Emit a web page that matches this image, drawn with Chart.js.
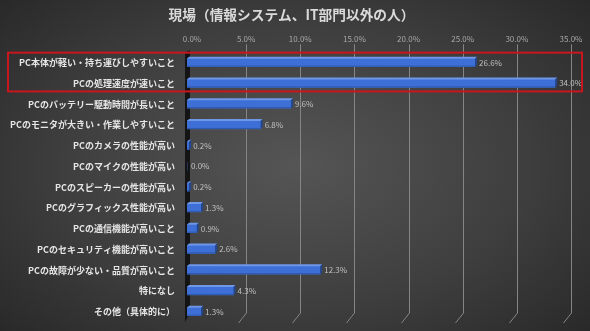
<!DOCTYPE html>
<html><head><meta charset="utf-8">
<script src="https://cdn.jsdelivr.net/npm/chart.js@4"></script>
<style>
html,body{margin:0;padding:0;}
body{width:590px;height:331px;overflow:hidden;background:radial-gradient(ellipse 72% 78% at 50% 50%, #555555 0%, #3e3e3e 55%, #262626 100%);}
#wrap{width:590px;height:331px;position:relative;}
</style></head><body><div id="wrap"><canvas id="c"></canvas></div>
<script>
const titleText = '現場（情報システム、IT部門以外の人）';
const categories = [
  'PC本体が軽い・持ち運びしやすいこと',
  'PCの処理速度が速いこと',
  'PCのバッテリー駆動時間が長いこと',
  'PCのモニタが大きい・作業しやすいこと',
  'PCのカメラの性能が高い',
  'PCのマイクの性能が高い',
  'PCのスピーカーの性能が高い',
  'PCのグラフィックス性能が高い',
  'PCの通信機能が高いこと',
  'PCのセキュリティ機能が高いこと',
  'PCの故障が少ない・品質が高いこと',
  '特になし',
  'その他（具体的に）'
];
const values = [26.6, 34.0, 9.6, 6.8, 0.2, 0.0, 0.2, 1.3, 0.9, 2.6, 12.3, 4.3, 1.3];
const tickValues = [0, 5, 10, 15, 20, 25, 30, 35];
const highlighted = [0, 1];

const FONT = '"Noto Sans CJK JP", "Noto Sans", sans-serif';
const DEPTH = 2;

const gridPlugin = {
  id: 'grid3d',
  beforeDatasetsDraw(chart) {
    const ctx = chart.ctx, xs = chart.scales.x, a = chart.chartArea;
    ctx.save();
    ctx.strokeStyle = '#858585';
    ctx.lineWidth = 1;
    tickValues.forEach(v => {
      if (v === 0) return;
      const px = Math.round(xs.getPixelForValue(v) + 5) + 0.5;
      ctx.beginPath();
      ctx.moveTo(px, a.top - 8);
      ctx.lineTo(px, a.bottom - 9);
      ctx.lineTo(px - 8, a.bottom + 1);
      ctx.stroke();
    });
    const l = xs.getPixelForValue(0);
    ctx.fillStyle = '#141414';
    ctx.beginPath();
    ctx.moveTo(l - 2, a.top);
    ctx.lineTo(l + 3, a.top - 2);
    ctx.lineTo(l + 3, a.bottom - 9);
    ctx.lineTo(l - 2, a.bottom);
    ctx.closePath();
    ctx.fill();
    ctx.restore();
  }
};

const barPlugin = {
  id: 'bar3d',
  afterDatasetsDraw(chart) {
    const ctx = chart.ctx;
    const meta = chart.getDatasetMeta(0);
    ctx.save();
    meta.data.forEach((el, i) => {
      const x0 = el.base, x1 = el.x;
      const yT = el.y - el.height / 2, yB = el.y + el.height / 2;
      const d = DEPTH;
      if (x1 - x0 > 0.5) {
        ctx.fillStyle = '#6f97e8';
        ctx.beginPath();
        ctx.moveTo(x0, yT); ctx.lineTo(x1, yT); ctx.lineTo(x1 + d, yT - d); ctx.lineTo(x0 + d, yT - d);
        ctx.closePath(); ctx.fill();
        ctx.fillStyle = '#24488f';
        ctx.beginPath();
        ctx.moveTo(x1, yT); ctx.lineTo(x1 + d, yT - d); ctx.lineTo(x1 + d, yB - d); ctx.lineTo(x1, yB);
        ctx.closePath(); ctx.fill();
        ctx.fillStyle = '#2d58ad';
        ctx.fillRect(x0, yB - 1, x1 - x0, 1);
      }
      ctx.fillStyle = '#c0c0c0';
      ctx.font = '8px ' + FONT;
      ctx.textAlign = 'left';
      ctx.textBaseline = 'middle';
      ctx.fillText(values[i].toFixed(1) + '%', x1 + d + 2, el.y);
    });
    ctx.restore();
  },
  afterDraw(chart) {
    const ctx = chart.ctx, ys = chart.scales.y;
    const top = ys.getPixelForValue(highlighted[0]) - 10;
    const bottom = ys.getPixelForValue(highlighted[highlighted.length - 1]) + 8;
    ctx.save();
    ctx.strokeStyle = '#c8161e';
    ctx.lineWidth = 2;
    ctx.strokeRect(8, top, chart.width - 16, bottom - top);
    ctx.fillStyle = '#dadada';
    ctx.font = 'bold 13.7px ' + FONT;
    ctx.textAlign = 'center';
    ctx.textBaseline = 'middle';
    ctx.fillText(titleText, 291.5, 15);
    ctx.restore();
  }
};

new Chart(document.getElementById('c'), {
  type: 'bar',
  data: {
    labels: categories,
    datasets: [{
      data: values,
      backgroundColor: '#3d6fd6',
      borderWidth: 0,
      barThickness: 8
    }]
  },
  options: {
    indexAxis: 'y',
    responsive: true,
    maintainAspectRatio: false,
    animation: false,
    layout: { padding: { left: 0, right: 24, top: 22.6, bottom: 9 } },
    plugins: {
      legend: { display: false },
      tooltip: { enabled: false },
      title: { display: false }
    },
    scales: {
      x: {
        position: 'top',
        min: 0, max: 35,
        afterBuildTicks: s => { s.ticks = tickValues.map(v => ({ value: v })); },
        afterFit: s => { s.height = 29.7; },
        grid: { display: false, drawTicks: false },
        border: { display: false },
        ticks: {
          color: '#a8a8a8',
          font: { family: FONT, size: 8 },
          padding: 9,
          labelOffset: 5,
          maxRotation: 0,
          callback: v => Number(v).toFixed(1) + '%'
        }
      },
      y: {
        afterFit: s => { s.width = 187; },
        grid: { display: true, drawOnChartArea: false, drawTicks: true, tickLength: 12, tickColor: 'rgba(0,0,0,0)', color: 'rgba(0,0,0,0)' },
        border: { display: false },
        ticks: {
          color: '#e6e6e6',
          font: { family: FONT, size: 9, weight: 'bold' },
          padding: 0,
          autoSkip: false
        }
      }
    }
  },
  plugins: [gridPlugin, barPlugin]
});
</script></body></html>
